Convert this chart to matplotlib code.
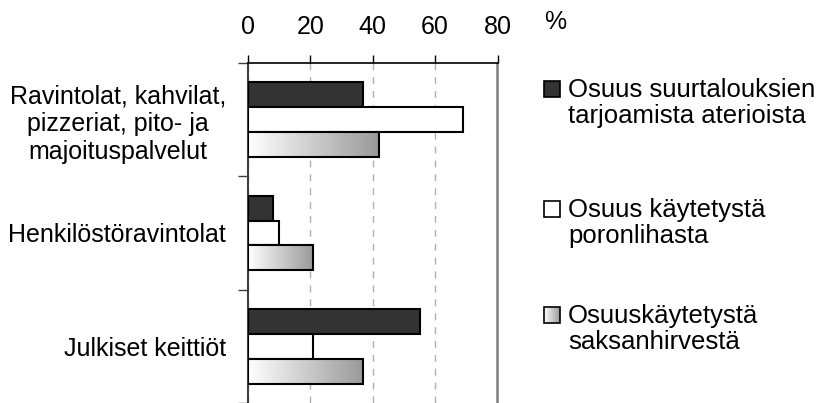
import numpy as np
import matplotlib.pyplot as plt
from matplotlib.colors import LinearSegmentedColormap
from matplotlib.patches import Rectangle

plt.rcParams['font.family'] = ['Liberation Sans', 'DejaVu Sans']

# tiedot
categories = ['Ravintolat, kahvilat,\npizzeriat, pito- ja\nmajoituspalvelut',
              'Henkilöstöravintolat', 'Julkiset keittiöt']
series = ['Osuus suurtalouksien\ntarjoamista aterioista',
          'Osuus käytetystä\nporonlihasta',
          'Osuuskäytetystä\nsaksanhirvestä']
aterioista = [37, 8, 55]
poronliha = [69, 10, 21]
saksanhirvi = [42, 21, 37]
ticks = [0, 20, 40, 60, 80]

W, H = 819, 403
fig = plt.figure(figsize=(W / 100, H / 100), dpi=100)
ax = fig.add_axes([248 / W, 0, 249.5 / W, 340 / H])

y = np.arange(len(categories))
h = 0.22
cmap = LinearSegmentedColormap.from_list('harmaa', ['white', '#999999'])
grad = np.linspace(0, 1, 256).reshape(1, -1)

ax.barh(y - h, aterioista, h, color='#333333', edgecolor='black', lw=1.5, zorder=3)
ax.barh(y, poronliha, h, color='white', edgecolor='black', lw=1.5, zorder=3)
bars = ax.barh(y + h, saksanhirvi, h, color='none', edgecolor='black', lw=1.5, zorder=4)
for b in bars:
    ax.imshow(grad, cmap=cmap, aspect='auto', zorder=3,
              extent=[b.get_x(), b.get_x() + b.get_width(),
                      b.get_y() + b.get_height(), b.get_y()])

ax.set_xlim(0, 80)
ax.set_ylim(2.5, -0.5)

# x-akseli ylhäällä
ax.xaxis.tick_top()
ax.set_xticks(ticks)
ax.tick_params(axis='x', direction='out', length=6, width=1, pad=11, labelsize=18)

# y-akseli
ax.set_yticks(y)
ax.set_yticklabels(categories, multialignment='center')
ax.set_yticks([-0.5, 0.5, 1.5, 2.5], minor=True)
ax.tick_params(axis='y', which='major', length=0, pad=16, labelsize=18)
ax.tick_params(axis='y', which='minor', length=7, width=1, color='#404040')

ax.spines['bottom'].set_visible(False)
ax.spines['right'].set_color('#808080')
ax.spines['right'].set_linewidth(1.8)
ax.spines['top'].set_linewidth(1.2)
ax.spines['left'].set_color('#404040')
ax.spines['left'].set_linewidth(1.5)

ax.grid(axis='x', color='#b0b0b0', linestyle=(0, (5, 5)), lw=1)
ax.set_axisbelow(True)

fig.text(555 / W, 1 - 22 / H, '%', ha='center', va='center', fontsize=18)

# selite
lax = fig.add_axes([0, 0, 1, 1])
lax.axis('off')
baselines = [97, 217, 323]
fills = ['#333333', 'white', None]
for lab, base, fc in zip(series, baselines, fills):
    x0, y0, s = 544, base - 16, 16
    if fc is None:
        lax.imshow(grad, cmap=cmap, aspect='auto', extent=[x0, x0 + s, y0 + s, y0], zorder=2)
        lax.add_patch(Rectangle((x0, y0), s, s, facecolor='none', edgecolor='black', lw=1.2, zorder=3))
    else:
        lax.add_patch(Rectangle((x0, y0), s, s, facecolor=fc, edgecolor='black', lw=1.2, zorder=3))
    for i, rivi in enumerate(lab.split('\n')):
        lax.text(568, base + 26 * i, rivi, ha='left', va='baseline', fontsize=18.5)
lax.set_xlim(0, W)
lax.set_ylim(H, 0)

fig.savefig('out.png', dpi=100)
